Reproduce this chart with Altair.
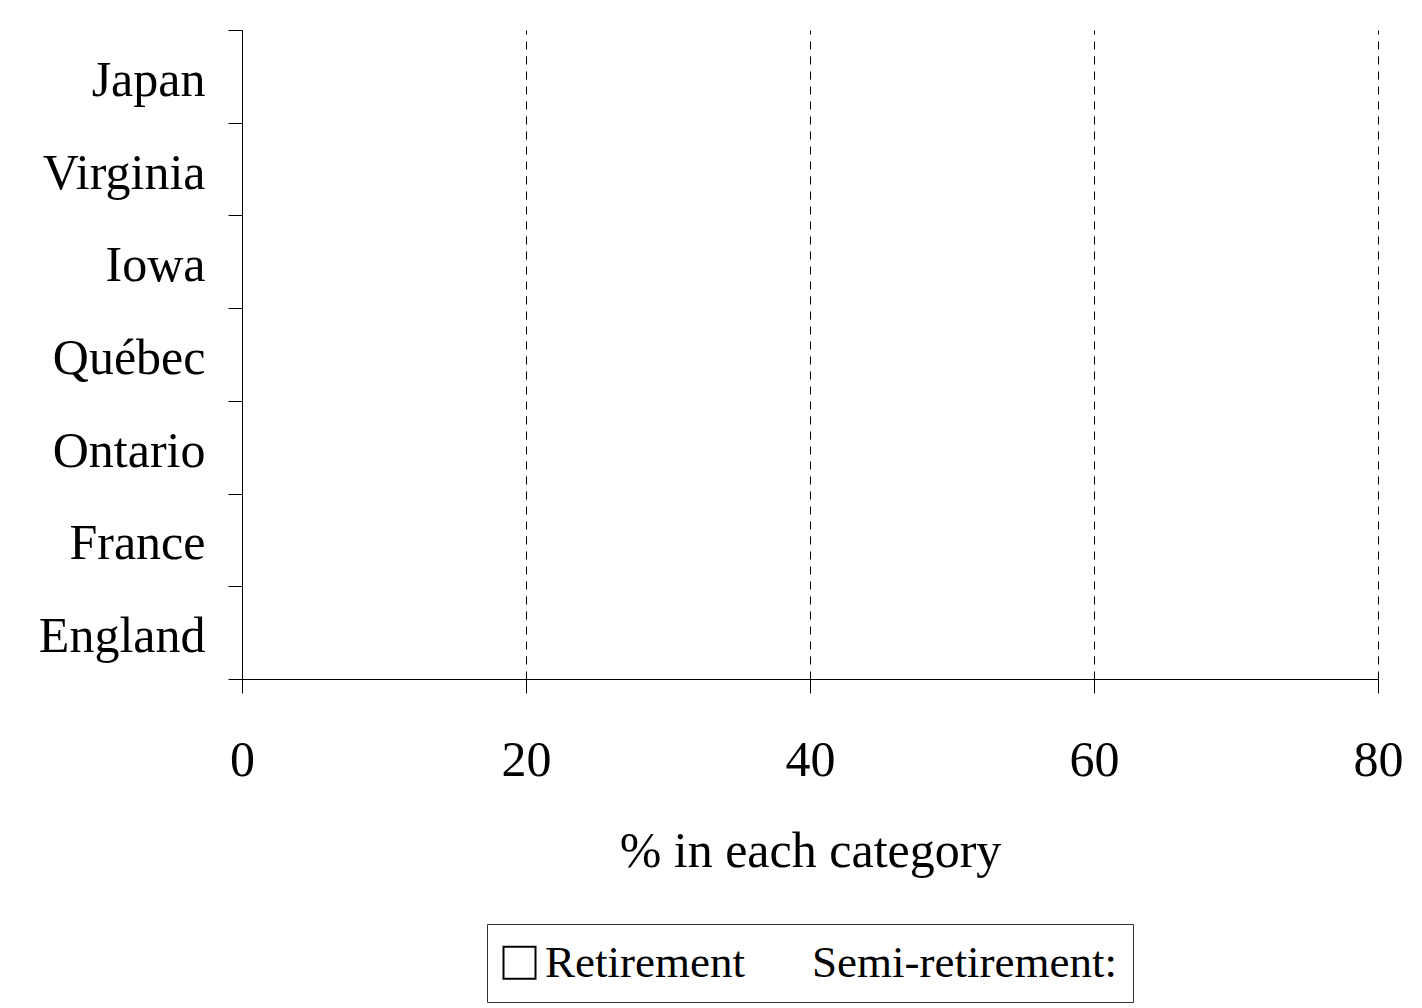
import altair as alt
import pandas as pd

countries = ["Japan", "Virginia", "Iowa", "Québec", "Ontario", "France", "England"]
series = ["Retirement", "Semi-retirement:"]
# No bars are drawn in the reference: every value reads as 0
values = {
    "Retirement": [0, 0, 0, 0, 0, 0, 0],
    "Semi-retirement:": [0, 0, 0, 0, 0, 0, 0],
}
x_ticks = [0, 20, 40, 60, 80]

rows = []
for s in series:
    for c, v in zip(countries, values[s]):
        rows.append({"country": c, "series": s, "value": v})
df = pd.DataFrame(rows)

FONT = "Liberation Serif"

chart = alt.Chart(df).mark_point(filled=False, color="black", opacity=0).encode(
    x=alt.X(
        "value:Q",
        scale=alt.Scale(domain=[0, 80], nice=False),
        axis=alt.Axis(
            values=x_ticks,
            title="% in each category",
            grid=True,
            gridDash=[8, 7],
            gridColor="black",
            gridWidth=1,
            tickSize=14,
            labelPadding=42,
            labelFlush=False,
            titlePadding=41,
        ),
    ),
    y=alt.Y(
        "country:N",
        sort=countries,
        title=None,
        axis=alt.Axis(tickBand="extent", tickSize=14, labelPadding=23,
                      labelOffset=4, grid=False),
    ),
    shape=alt.Shape(
        "series:N",
        sort=series,
        scale=alt.Scale(domain=series, range=["square", "M0,0"]),
        legend=alt.Legend(
            title=None,
            orient="none",
            legendX=245,
            legendY=894,
            direction="horizontal",
            symbolOpacity=1,
            symbolSize=1024,
            symbolStrokeColor="black",
            symbolStrokeWidth=2,
            symbolFillColor="white",
            symbolOffset=-6,
            labelFontSize=45,
            labelFont=FONT,
            labelColor="black",
            labelOffset=3,
            labelLimit=0,
            columnPadding=25,
            strokeColor="#333333",
            padding=16,
        ),
    ),
).properties(
    width=1136,
    height=649,
    background="white",
    padding={"left": 30, "top": -3, "right": 10, "bottom": 0},
).configure_view(
    stroke=None
).configure_axis(
    labelFont=FONT,
    titleFont=FONT,
    labelFontSize=50,
    titleFontSize=50,
    titleFontWeight="normal",
    labelColor="black",
    titleColor="black",
    domainColor="black",
    tickColor="black",
    domainWidth=1,
    tickWidth=1,
    labelLimit=0,
)

chart.save("out.html", embed_options={"renderer": "svg", "actions": False})
